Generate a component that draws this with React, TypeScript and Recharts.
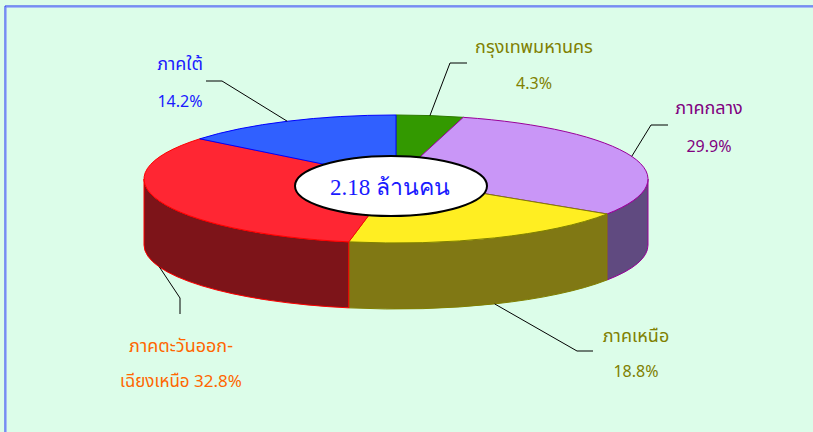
import { PieChart, Pie, Cell } from "recharts";

// shares of the 2.18 million, clockwise from 12 o'clock
const REGIONS = ["กรุงเทพมหานคร", "ภาคกลาง", "ภาคเหนือ", "ภาคตะวันออกเฉียงเหนือ", "ภาคใต้"];
const SHARES = [4.3, 29.9, 18.8, 32.8, 14.2];
const LABEL_LINES = [["กรุงเทพมหานคร"], ["ภาคกลาง"], ["ภาคเหนือ"], ["ภาคตะวันออก-", "เฉียงเหนือ"], ["ภาคใต้"]];
const TOTAL_LABEL = "2.18 ล้านคน";

const data = REGIONS.map((name, i) => ({ name, value: SHARES[i] }));

// colours
const TOP = ["#339900", "#c996f7", "#ffee22", "#ff2633", "#3060ff"];
const SIDE = ["#1f5c00", "#604a80", "#807814", "#7d1419", "#1a338f"];
const EDGE = ["#2d7a00", "#990099", "#808000", "#ff0000", "#0000ff"];
const TEXT = ["#808000", "#800080", "#808000", "#ff6600", "#1a1aff"];

// leader elbows and label positions
const LEADERS = [
  { elbow: [450, 63], end: [467, 63], x: 534, y: [53, 89] },
  { elbow: [651, 125], end: [668, 125], x: 709, y: [114, 152] },
  { elbow: [577, 351], end: [593, 351], x: 636, y: [342, 377] },
  { elbow: [180, 298], end: [180, 314], x: 181, y: [352, 387] },
  { elbow: [222, 81], end: [206, 81], x: 180, y: [70, 107] },
];

const TILT = 0.254;
const DEPTH = 66;
const RAD = Math.PI / 180;
const THAI = "Tahoma, 'Noto Sans Thai', 'DejaVu Sans', sans-serif";

const pt = (cx: number, cy: number, rx: number, a: number): [number, number] => [
  cx + rx * Math.cos(a * RAD),
  cy - rx * TILT * Math.sin(a * RAD),
];

const renderBody = (props: any) => {
  const { cx, cy, outerRadius: rx, startAngle, endAngle, index } = props;
  const ry = rx * TILT;
  const a0 = Math.max(startAngle, endAngle);
  const a1 = Math.min(startAngle, endAngle);
  const [x0, y0] = pt(cx, cy, rx, a0);
  const [x1, y1] = pt(cx, cy, rx, a1);
  const large = a0 - a1 > 180 ? 1 : 0;
  const top = `M${cx},${cy} L${x0},${y0} A${rx},${ry} 0 ${large} 1 ${x1},${y1} Z`;

  // front walls: only the lower half of the ellipse shows
  const walls: string[] = [];
  for (let k = -2; k <= 2; k++) {
    const lo = Math.max(a1, -180 + 360 * k);
    const hi = Math.min(a0, 360 * k);
    if (hi > lo) {
      const [hx, hy] = pt(cx, cy, rx, hi);
      const [lx, ly] = pt(cx, cy, rx, lo);
      walls.push(
        `M${hx},${hy} A${rx},${ry} 0 0 1 ${lx},${ly} L${lx},${ly + DEPTH} A${rx},${ry} 0 0 0 ${hx},${hy + DEPTH} Z`
      );
    }
  }

  return (
    <g key={`body-${index}`}>
      {walls.map((d, j) => (
        <path key={j} d={d} fill={SIDE[index]} stroke={EDGE[index]} strokeWidth={1} />
      ))}
      <path d={top} fill={TOP[index]} stroke={EDGE[index]} strokeWidth={1} />
    </g>
  );
};

const renderLeader = (props: any) => {
  const { cx, cy, outerRadius: rx, midAngle, index } = props;
  const [ax, ay0] = pt(cx, cy, rx, midAngle);
  const ay = Math.sin(midAngle * RAD) < 0 ? ay0 + DEPTH : ay0;
  const lay = LEADERS[index];
  const lines = LABEL_LINES[index];
  const pct = `${SHARES[index].toFixed(1)}%`;
  const second = lines.length > 1 ? `${lines[1]} ${pct}` : pct;
  return (
    <g key={`lead-${index}`}>
      <polyline
        points={`${ax},${ay} ${lay.elbow[0]},${lay.elbow[1]} ${lay.end[0]},${lay.end[1]}`}
        fill="none"
        stroke="#000"
        strokeWidth={1}
      />
      <text x={lay.x} y={lay.y[0]} textAnchor="middle" fill={TEXT[index]} fontSize={18} fontFamily={THAI}>
        {lines[0]}
      </text>
      <text x={lay.x} y={lay.y[1]} textAnchor="middle" fill={TEXT[index]} fontSize={lines.length > 1 ? 17 : 16} fontFamily={THAI}>
        {second}
      </text>
    </g>
  );
};

export default function App() {
  return (
    <div
      style={{
        position: "fixed",
        left: 0,
        top: 0,
        width: 813,
        height: 432,
        background: "#dcfde9",
        overflow: "hidden",
      }}
    >
      <PieChart width={813} height={432} margin={{ top: 0, right: 0, bottom: 0, left: 0 }}>
        {/* 3D bodies */}
        <Pie
          data={data}
          dataKey="value"
          cx={396}
          cy={179}
          outerRadius={252}
          startAngle={90}
          endAngle={-270}
          stroke="none"
          labelLine={false}
          label={renderBody}
          isAnimationActive={false}
        >
          {data.map((d) => (
            <Cell key={d.name} fill="transparent" />
          ))}
        </Pie>
        {/* leaders and labels */}
        <Pie
          data={data}
          dataKey="value"
          cx={396}
          cy={179}
          outerRadius={252}
          startAngle={90}
          endAngle={-270}
          stroke="none"
          labelLine={false}
          label={renderLeader}
          isAnimationActive={false}
        >
          {data.map((d) => (
            <Cell key={d.name} fill="transparent" />
          ))}
        </Pie>
      </PieChart>

      <svg width={813} height={432} style={{ position: "absolute", left: 0, top: 0, pointerEvents: "none" }}>
        <line x1={5} y1={6} x2={813} y2={6} stroke="#2233ee" strokeWidth={1} />
        <line x1={6} y1={7} x2={813} y2={7} stroke="#7080ff" strokeWidth={1} />
        <line x1={5} y1={6} x2={5} y2={432} stroke="#2233ee" strokeWidth={1} />
        <line x1={6} y1={7} x2={6} y2={432} stroke="#7080ff" strokeWidth={1} />
        <ellipse cx={391} cy={186} rx={96} ry={30} fill="#fff" stroke="#000" strokeWidth={2} />
        <text
          x={390}
          y={195}
          textAnchor="middle"
          fill="#1a1aff"
          fontSize={23}
          fontFamily="'Liberation Serif', 'Times New Roman', serif"
        >
          {TOTAL_LABEL}
        </text>
      </svg>
    </div>
  );
}
